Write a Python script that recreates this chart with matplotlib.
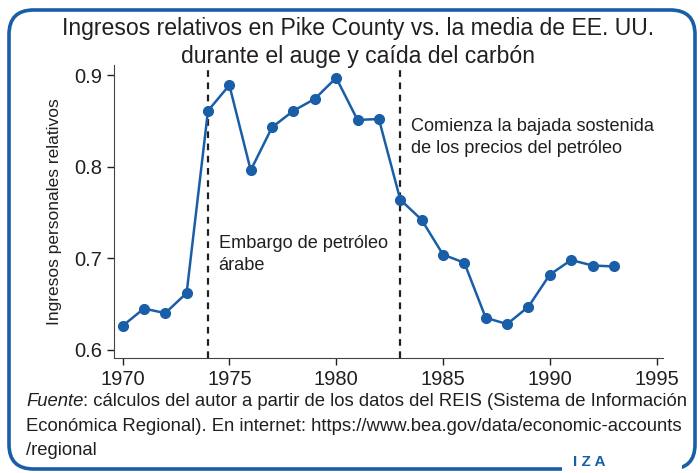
import matplotlib
matplotlib.use("Agg")
import matplotlib.pyplot as plt
from matplotlib.patches import FancyBboxPatch

plt.rcParams['font.family'] = ['Liberation Sans', 'DejaVu Sans']

years = list(range(1970, 1994))
income = [0.626, 0.645, 0.640, 0.662, 0.861, 0.889, 0.796, 0.843, 0.861, 0.874,
          0.897, 0.851, 0.852, 0.764, 0.742, 0.704, 0.695, 0.635, 0.628, 0.647,
          0.682, 0.698, 0.692, 0.691]
events = [1974, 1983]
event_labels = ["Embargo de petróleo\nárabe",
                "Comienza la bajada sostenida\nde los precios del petróleo"]
xticks = [1970, 1975, 1980, 1985, 1990, 1995]
yticks = [0.6, 0.7, 0.8, 0.9]
title_lines = ["Ingresos relativos en Pike County vs. la media de EE. UU.",
               "durante el auge y caída del carbón"]
source_lines = [": cálculos del autor a partir de los datos del REIS (Sistema de Información",
                "Económica Regional). En internet: https://www.bea.gov/data/economic-accounts",
                "/regional"]

blue = "#1a5ea8"
txt = "#231f20"
W, H = 700, 473

fig = plt.figure(figsize=(7, 4.73), dpi=100)
ax = fig.add_axes([114 / W, 1 - 358 / H, (663 - 114) / W, (358 - 65) / H])
renderer = fig.canvas.get_renderer()


def fit(t, width_px):
    # shrink/grow a text so it takes the given width in pixels
    w = t.get_window_extent(renderer).width
    t.set_fontsize(t.get_fontsize() * width_px / w)


ax.plot(years, income, color=blue, lw=1.8, marker="o", ms=7, zorder=3)
for e in events:
    ax.axvline(e, color=txt, ls=(0, (3, 2.5)), lw=1.6, zorder=2)

t1 = ax.text(1974.5, 0.725, event_labels[0], fontsize=12.5, color=txt, va="top",
             linespacing=1.35)
t2 = ax.text(1983.5, 0.853, event_labels[1], fontsize=12.5, color=txt, va="top",
             linespacing=1.35)
fit(t2, 651 - 407)
t1.set_fontsize(t2.get_fontsize())

ax.set_xlim(1969.6, 1995.3)
ax.set_ylim(0.591, 0.911)
ax.set_xticks(xticks)
ax.set_yticks(yticks)
ax.set_yticklabels(["0.6", "0.7", "0.8", "0.9"])
ax.tick_params(labelsize=14.5, colors=txt, length=5, width=1)
for s in ["top", "right"]:
    ax.spines[s].set_visible(False)
for s in ["left", "bottom"]:
    ax.spines[s].set_color("#444444")
ax.set_ylabel("Ingresos personales relativos", fontsize=12.5, color=txt,
              labelpad=9)

ta = fig.text(358 / W, 1 - 28 / H, title_lines[0], ha="center", va="center",
              fontsize=16, color=txt)
fit(ta, 655 - 62)
tb = fig.text(358 / W, 1 - 57 / H, title_lines[1], ha="center", va="center",
              fontsize=ta.get_fontsize(), color=txt)

fu = fig.text(26 / W, 1 - 402 / H, "Fuente", fontsize=12.5, color=txt,
              style="italic", va="center")
s1 = fig.text(0, 1 - 402 / H, source_lines[0], fontsize=12.5, color=txt,
              va="center")
s2 = fig.text(26 / W, 1 - 426 / H, source_lines[1], fontsize=12.5, color=txt,
              va="center")
s3 = fig.text(26 / W, 1 - 450 / H, source_lines[2], fontsize=12.5, color=txt,
              va="center")
fit(s2, 686 - 26)
for t in (fu, s1, s3):
    t.set_fontsize(s2.get_fontsize())
fu_w = fu.get_window_extent(renderer).width
s1.set_x((26 + fu_w) / W)

# border
box = FancyBboxPatch((9 / W, 4 / H), 686 / W, 459 / H,
                     boxstyle="round,pad=0,rounding_size=0.035",
                     transform=fig.transFigure, fill=False, ec=blue, lw=2.6,
                     mutation_aspect=W / H)
fig.patches.append(box)
# gap for the logo
fig.patches.append(plt.Rectangle((562 / W, 0.0), 120 / W, 12 / H,
                                 transform=fig.transFigure,
                                 fc="white", ec="none", zorder=5))
fig.text(589 / W, 1 - 462 / H, "I Z A", fontsize=11, color=blue, ha="center",
         va="center", weight="bold", zorder=6)

fig.savefig("out.png", dpi=100)
